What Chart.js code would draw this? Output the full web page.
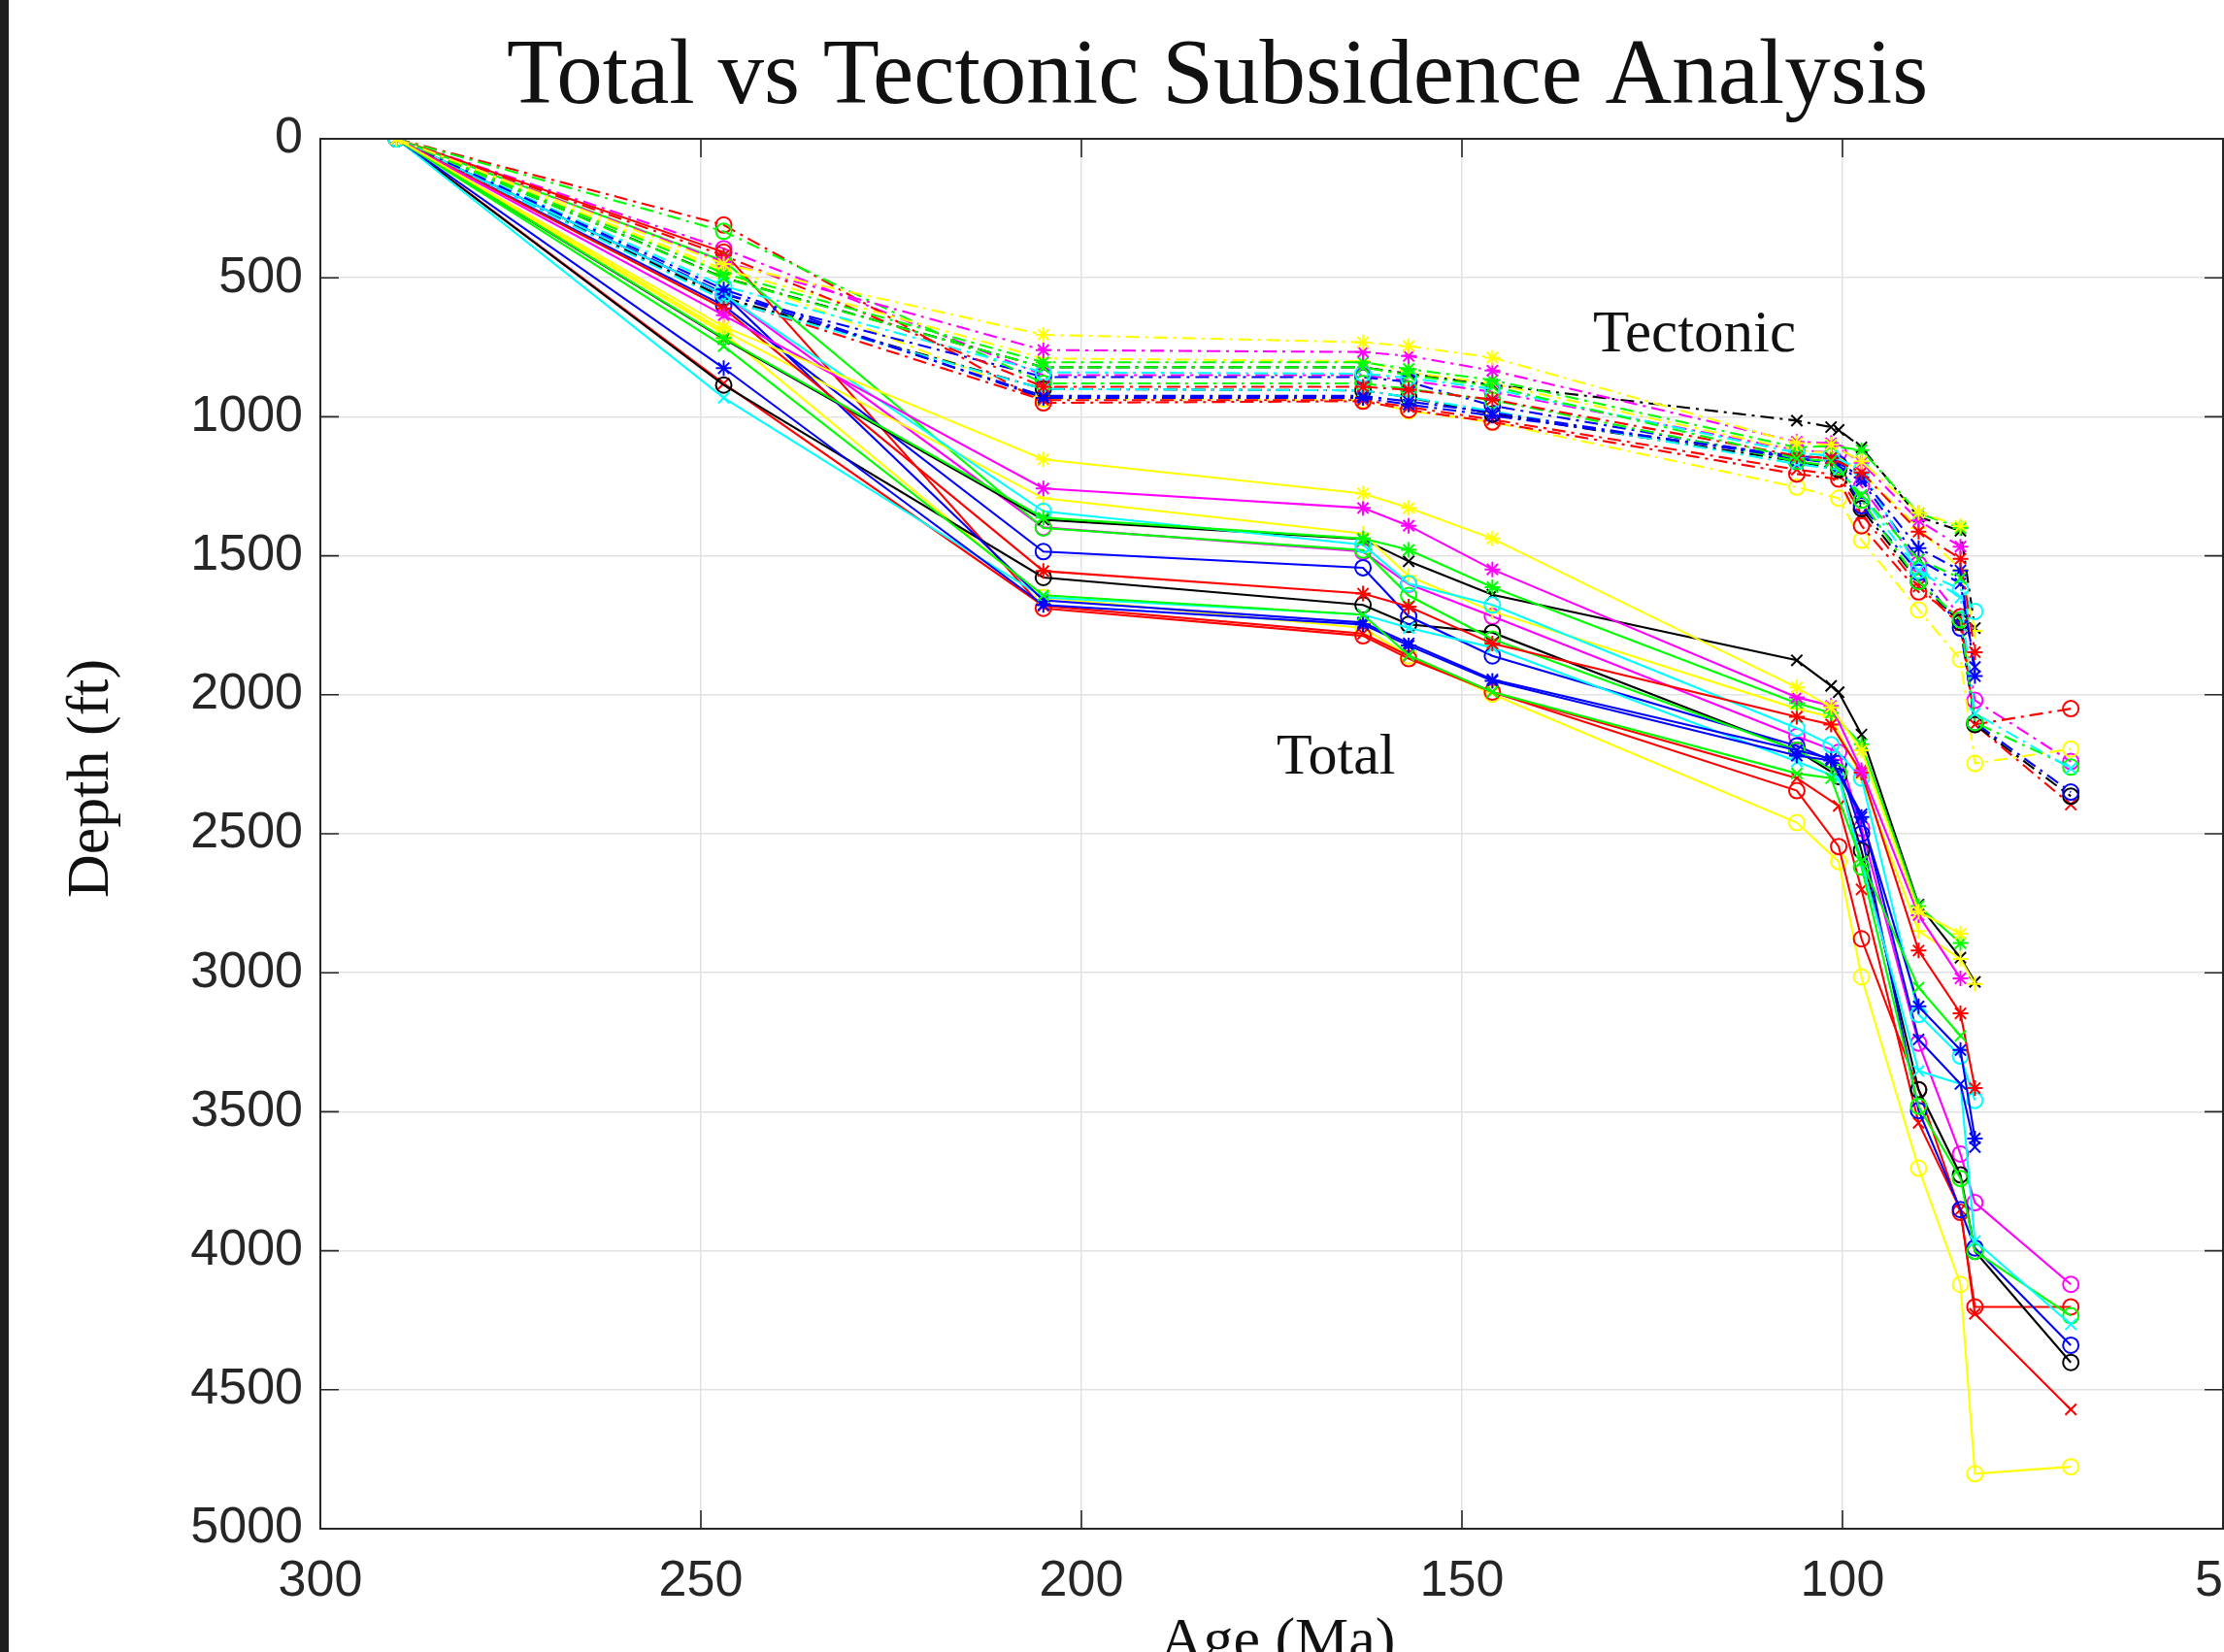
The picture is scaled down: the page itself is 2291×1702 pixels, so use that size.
<!DOCTYPE html>
<html><head><meta charset="utf-8">
<script src="https://cdn.jsdelivr.net/npm/chart.js@4.4.1/dist/chart.umd.min.js"></script>
<style>html,body{margin:0;padding:0;background:#fff;overflow:hidden}canvas{display:block}</style>
</head><body>
<canvas id="c" width="2291" height="1702"></canvas>
<script>
// ---------- tick labels ----------
const ageTicks = [300, 250, 200, 150, 100, 50];
const depthTicks = [0, 500, 1000, 1500, 2000, 2500, 3000, 3500, 4000, 4500, 5000];

// ---------- ages (Ma) of each well group ----------
const agesToL = [290, 247, 205, 163, 157, 146, 106, 101.5, 97.5, 90, 84.5];
const agesToM = [290, 247, 205, 163, 157, 146, 106, 101.5, 97.5, 90, 84.5, 82.6];
const agesBlackX = [290, 247, 205, 163, 157, 146, 106, 101.5, 100.5, 97.5, 90, 84.5, 82.6];
const agesToN = [290, 247, 205, 163, 157, 146, 106, 100.5, 97.5, 90, 84.5, 82.6, 70];

// ---------- depths (ft): total and tectonic subsidence ----------
const totalYStar = [0, 676, 1153, 1276, 1328, 1438, 1974, 2045, 2200, 2780, 2860];
const tectYStar  = [0, 450, 705, 732, 746, 787, 1095, 1100, 1160, 1345, 1393];
const totalMStar = [0, 635, 1258, 1328, 1392, 1549, 2009, 2040, 2271, 2793, 3020];
const tectMStar  = [0, 443, 760, 767, 781, 834, 1090, 1095, 1165, 1373, 1467];
const totalGStar = [0, 717, 1363, 1438, 1479, 1613, 2030, 2065, 2178, 2760, 2893];
const tectGStar  = [0, 484, 804, 804, 828, 868, 1110, 1105, 1120, 1347, 1400];
const totalGX    = [0, 746, 1642, 1712, 1858, 1990, 2283, 2300, 2600, 3053, 3227];
const tectGX     = [0, 502, 822, 822, 850, 890, 1150, 1160, 1282, 1513, 1580];

const totalRStar = [0, 610, 1555, 1636, 1683, 1816, 2079, 2107, 2280, 2920, 3146, 3415];
const tectRStar  = [0, 420, 892, 892, 903, 938, 1140, 1150, 1200, 1413, 1511, 1847];
const totalBStar = [0, 825, 1677, 1747, 1823, 1950, 2219, 2236, 2440, 3121, 3278, 3596];
const tectBStar  = [0, 542, 932, 932, 956, 996, 1142, 1148, 1218, 1473, 1553, 1933];
const totalCO    = [0, 560, 1340, 1460, 1600, 1677, 2120, 2180, 2300, 3150, 3300, 3459];
const tectCO     = [0, 530, 840, 845, 860, 900, 1130, 1140, 1190, 1553, 1620, 1700];
const totalBX    = [0, 560, 1660, 1740, 1815, 1945, 2200, 2230, 2430, 3240, 3400, 3627];
const tectBX     = [0, 555, 925, 925, 945, 985, 1150, 1160, 1230, 1513, 1600, 1900];
const totalYPlus = [0, 690, 1293, 1420, 1573, 1700, 2050, 2080, 2300, 2850, 2950, 3040];
const tectYPlus  = [0, 470, 790, 800, 840, 880, 1120, 1130, 1200, 1400, 1550, 1770];

const totalKX = [0, 720, 1370, 1440, 1520, 1640, 1876, 1968, 1991, 2143, 2755, 2946, 3033];
const tectKX  = [0, 500, 822, 822, 845, 885, 1014, 1037, 1047, 1110, 1360, 1410, 1760];

const totalMO = [0, 560, 1398, 1485, 1602, 1718, 2150, 2207, 2480, 3253, 3652, 3827, 4121];
const tectMO  = [0, 395, 850, 850, 870, 910, 1120, 1130, 1250, 1530, 1720, 2020, 2240];
const totalRO = [0, 408, 1689, 1788, 1870, 1990, 2345, 2546, 2878, 3421, 3862, 4202, 4202];
const tectRO  = [0, 310, 950, 944, 975, 1019, 1206, 1224, 1392, 1630, 1720, 2107, 2050];
const totalGO = [0, 440, 1400, 1480, 1643, 1800, 2200, 2280, 2620, 3480, 3740, 4002, 4234];
const tectGO  = [0, 333, 880, 880, 900, 940, 1160, 1180, 1300, 1593, 1730, 2100, 2260];
const totalCX = [0, 932, 1650, 1712, 1760, 1830, 2240, 2300, 2600, 3353, 3400, 3965, 4265];
const tectCX  = [0, 580, 900, 905, 930, 980, 1170, 1190, 1282, 1553, 1650, 2067, 2265];
const totalBO = [0, 600, 1485, 1543, 1718, 1860, 2184, 2247, 2500, 3496, 3852, 3990, 4340];
const tectBO  = [0, 560, 857, 857, 875, 960, 1150, 1170, 1320, 1560, 1760, 2100, 2350];
const totalKO = [0, 886, 1578, 1677, 1747, 1776, 2200, 2294, 2560, 3421, 3727, 4002, 4402];
const tectKO  = [0, 571, 900, 905, 930, 990, 1160, 1190, 1330, 1593, 1740, 2107, 2365];
const totalRX = [0, 880, 1680, 1780, 1860, 1990, 2300, 2400, 2700, 3540, 3852, 4227, 4571];
const tectRX  = [0, 575, 940, 940, 965, 1010, 1190, 1210, 1350, 1610, 1750, 2107, 2395];
const totalYO = [0, 700, 1650, 1760, 1860, 1998, 2460, 2600, 3015, 3703, 4121, 4802, 4777];
const tectYO  = [0, 480, 935, 940, 979, 1019, 1253, 1293, 1444, 1695, 1873, 2247, 2195];

// ---------- well table (data refs + MATLAB colour / marker) ----------
const C = {y:'#ffff00', m:'#ff00ff', c:'#00ffff', r:'#ff0000', g:'#00ff00', b:'#0000ff', k:'#000000'};
const M = {'*':'star', 'o':'circle', 'x':'crossRot', '+':'cross'};
const wells = [
  [agesToL, totalYStar, tectYStar, 'y', '*'],
  [agesToL, totalMStar, tectMStar, 'm', '*'],
  [agesToL, totalGStar, tectGStar, 'g', '*'],
  [agesToL, totalGX, tectGX, 'g', 'x'],
  [agesToM, totalRStar, tectRStar, 'r', '*'],
  [agesToM, totalBStar, tectBStar, 'b', '*'],
  [agesToM, totalCO, tectCO, 'c', 'o'],
  [agesToM, totalBX, tectBX, 'b', 'x'],
  [agesToM, totalYPlus, tectYPlus, 'y', '+'],
  [agesBlackX, totalKX, tectKX, 'k', 'x'],
  [agesToN, totalCX, tectCX, 'c', 'x'],
  [agesToN, totalGO, tectGO, 'g', 'o'],
  [agesToN, totalBO, tectBO, 'b', 'o'],
  [agesToN, totalKO, tectKO, 'k', 'o'],
  [agesToN, totalRX, tectRX, 'r', 'x'],
  [agesToN, totalRO, tectRO, 'r', 'o'],
  [agesToN, totalYO, tectYO, 'y', 'o'],
  [agesToN, totalMO, tectMO, 'm', 'o']
];

const datasets = [];
wells.forEach((w, i) => {
  const [ages, tot, tec, col, mk] = w;
  const base = {
    borderColor: C[col], pointBorderColor: C[col], pointBackgroundColor: 'rgba(0,0,0,0)',
    pointStyle: M[mk], pointRadius: 8, pointBorderWidth: 2, borderWidth: 2.1,
    tension: 0, fill: false, showLine: true
  };
  datasets.push(Object.assign({}, base, {
    label: 'Tectonic ' + (i + 1),
    data: ages.map((a, j) => ({x: a, y: tec[j]})),
    borderDash: [14, 6, 3, 6]
  }));
  datasets.push(Object.assign({}, base, {
    label: 'Total ' + (i + 1),
    data: ages.map((a, j) => ({x: a, y: tot[j]}))
  }));
});

// target plot box in canvas pixels
const AREA = { left: 330, top: 143, right: 2290, bottom: 1575 };
const AXC = '#262626';
const deco = {
  id: 'deco',
  beforeDraw(chart) {
    const ctx = chart.ctx;
    ctx.save();
    ctx.fillStyle = '#ffffff';
    ctx.fillRect(0, 0, chart.width, chart.height);
    ctx.fillStyle = '#1e1e1e';
    ctx.fillRect(0, 0, 9, chart.height);
    ctx.restore();
  },
  afterDraw(chart) {
    const ctx = chart.ctx, a = chart.chartArea;
    const xs = chart.scales.x, ys = chart.scales.y;
    ctx.save();
    ctx.strokeStyle = AXC; ctx.lineWidth = 1.6;
    ctx.beginPath();
    ageTicks.forEach(v => {
      const p = xs.getPixelForValue(v);
      ctx.moveTo(p, a.bottom); ctx.lineTo(p, a.bottom - 19);
      ctx.moveTo(p, a.top); ctx.lineTo(p, a.top + 19);
    });
    depthTicks.forEach(v => {
      const p = ys.getPixelForValue(v);
      ctx.moveTo(a.left, p); ctx.lineTo(a.left + 19, p);
      ctx.moveTo(a.right, p); ctx.lineTo(a.right - 19, p);
    });
    ctx.stroke();
    ctx.lineWidth = 2;
    ctx.strokeRect(a.left, a.top, a.right - a.left, a.bottom - a.top);

    ctx.fillStyle = '#111111';
    ctx.textBaseline = 'alphabetic';
    ctx.font = '95px "Liberation Serif"';
    ctx.textAlign = 'center';
    ctx.fillText('Total vs Tectonic Subsidence Analysis', 1254, 106);
    ctx.font = '62px "Liberation Serif"';
    ctx.fillText('Age (Ma)', 1316, 1709);
    ctx.textAlign = 'left';
    ctx.font = '61px "Liberation Serif"';
    ctx.fillText('Tectonic', 1641, 362);
    ctx.font = '60px "Liberation Serif"';
    ctx.fillText('Total', 1315, 797);
    ctx.translate(111, 802);
    ctx.rotate(-Math.PI / 2);
    ctx.textAlign = 'center';
    ctx.font = '62px "Liberation Serif"';
    ctx.fillText('Depth (ft)', 0, 0);
    ctx.restore();
  }
};

const chart = new Chart(document.getElementById('c'), {
  type: 'scatter',
  data: { datasets },
  options: {
    responsive: false, animation: false, devicePixelRatio: 1,
    layout: { autoPadding: false, padding: { left: 0, right: 1, top: 143, bottom: 0 } },
    plugins: { legend: { display: false }, title: { display: false }, tooltip: { enabled: false } },
    scales: {
      x: {
        type: 'linear', reverse: true, min: 50, max: 300,
        afterBuildTicks: s => { s.ticks = ageTicks.map(v => ({ value: v })); },
        afterFit: s => { s.height = 127; s.paddingLeft = 0; s.paddingRight = 0; },
        ticks: { color: AXC, font: { family: 'Liberation Sans', size: 52 }, padding: 23, maxRotation: 0, autoSkip: false,
                 callback: v => String(v) },
        grid: { color: '#e2e2e2', lineWidth: 1.5, drawTicks: false },
        border: { display: true, color: AXC, width: 2 }
      },
      y: {
        type: 'linear', reverse: true, min: 0, max: 5000,
        afterBuildTicks: s => { s.ticks = depthTicks.map(v => ({ value: v })); },
        afterFit: s => { s.width = 330; s.paddingTop = 0; s.paddingBottom = 0; },
        ticks: { color: AXC, font: { family: 'Liberation Sans', size: 52 }, padding: 18, autoSkip: false,
                 callback: v => String(v) },
        grid: { color: '#e2e2e2', lineWidth: 1.5, drawTicks: false },
        border: { display: true, color: AXC, width: 2 }
      }
    }
  },
  plugins: [deco]
});

// make the plot box land exactly on the target rectangle
for (let k = 0; k < 3; k++) {
  const a = chart.chartArea, p = chart.options.layout.padding;
  const dl = AREA.left - a.left, dr = a.right - AREA.right, dt = AREA.top - a.top, db = a.bottom - AREA.bottom;
  if (Math.abs(dl) < 0.5 && Math.abs(dr) < 0.5 && Math.abs(dt) < 0.5 && Math.abs(db) < 0.5) break;
  p.left += dl; p.right += dr; p.top += dt; p.bottom += db;
  chart.update();
}
</script>
</body></html>
